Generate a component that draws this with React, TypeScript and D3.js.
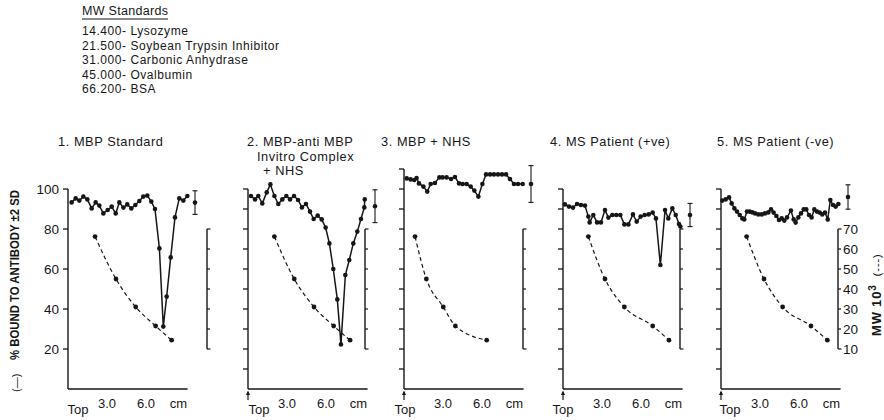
import React from "react";
import * as d3 from "d3";

// ---- data ----
const standardsTitle = "MW Standards";
const standardsLines = [
  "14.400- Lysozyme",
  "21.500- Soybean Trypsin Inhibitor",
  "31.000- Carbonic Anhydrase",
  "45.000- Ovalbumin",
  "66.200- BSA",
];

const panelTitles = [
  ["1. MBP Standard"],
  ["2. MBP-anti MBP", "Invitro Complex", "+ NHS"],
  ["3. MBP + NHS"],
  ["4. MS Patient (+ve)"],
  ["5. MS Patient (-ve)"],
];

const mwValues = [66.2, 45.0, 31.0, 21.5, 14.4];
const mwTicks = [10, 20, 30, 40, 50, 60, 70];
const xTickLabels = ["3.0", "6.0"];
const xTickValues = [3.0, 6.0];

const p1Cm = [0.28, 0.59, 0.87, 1.18, 1.49, 1.82, 2.13, 2.41, 2.72, 3.05, 3.36, 3.67, 3.95, 4.26, 4.56, 4.87, 5.18, 5.49, 5.79, 6.10, 6.41, 6.69, 7.03, 7.33, 7.59, 7.90, 8.23, 8.56, 8.87, 9.18];
const p1Bound = [93.3, 95.3, 94.2, 96.2, 94.8, 90.3, 93.3, 91.7, 87.8, 89.5, 91.2, 87.8, 93.3, 90.7, 92.3, 90.3, 92.0, 94.0, 96.2, 96.7, 93.7, 90.0, 70.3, 31.2, 46.2, 65.8, 85.8, 95.3, 94.2, 96.5];
const p1MwCm = [2.08, 3.69, 5.21, 6.74, 7.97];

const p2Cm = [0.23, 0.54, 0.79, 1.10, 1.44, 1.72, 2.03, 2.33, 2.64, 2.95, 3.23, 3.54, 3.85, 4.15, 4.46, 4.77, 5.05, 5.36, 5.67, 5.97, 6.26, 6.56, 6.87, 7.15, 7.49, 7.79, 8.10, 8.41, 8.69, 8.95, 8.98];
const p2Bound = [96.5, 94.8, 96.5, 92.8, 98.3, 102.3, 96.5, 92.5, 94.8, 96.5, 94.8, 96.5, 94.5, 90.8, 92.5, 88.7, 85.0, 86.7, 84.8, 80.7, 72.8, 60.0, 44.8, 22.3, 57.0, 64.5, 72.8, 78.7, 85.0, 90.8, 94.8];
const p2MwCm = [2.03, 3.56, 5.08, 6.59, 7.85];

const p3Cm = [0.21, 0.51, 0.79, 0.97, 1.15, 1.49, 1.79, 2.05, 2.38, 2.72, 2.97, 3.28, 3.62, 3.92, 4.23, 4.51, 4.82, 5.13, 5.41, 5.72, 6.03, 6.31, 6.62, 6.92, 7.23, 7.54, 7.85, 8.15, 8.46, 8.77, 9.13];
const p3Bound = [105.3, 104.8, 104.5, 105.5, 102.8, 101.2, 98.7, 102.5, 103.0, 105.8, 105.8, 105.8, 105.0, 106.0, 102.8, 102.5, 102.5, 101.2, 99.2, 96.2, 102.5, 107.3, 107.3, 107.3, 107.3, 107.3, 107.3, 105.0, 102.5, 102.5, 102.5];
const p3MwCm = [0.85, 1.72, 3.02, 3.95, 6.36];

const p4Cm = [0.15, 0.46, 0.77, 1.08, 1.38, 1.69, 1.95, 2.05, 2.33, 2.62, 2.92, 3.23, 3.49, 3.79, 4.10, 4.41, 4.72, 5.03, 5.38, 5.67, 5.97, 6.28, 6.59, 6.90, 7.15, 7.49, 7.85, 8.10, 8.41, 8.67, 8.92, 9.03];
const p4Bound = [92.3, 91.2, 90.7, 92.5, 92.0, 91.7, 86.2, 83.3, 87.0, 83.3, 83.3, 89.5, 85.7, 87.0, 87.0, 87.0, 82.3, 82.3, 87.3, 83.7, 86.2, 87.0, 87.3, 88.2, 85.3, 62.0, 89.5, 85.3, 90.3, 87.0, 82.5, 81.2];
const p4MwCm = [1.95, 3.23, 4.72, 6.90, 8.15];

const p5Cm = [0.10, 0.36, 0.62, 0.82, 1.03, 1.23, 1.44, 1.64, 1.79, 2.00, 2.21, 2.41, 2.62, 2.87, 3.13, 3.38, 3.64, 3.85, 4.05, 4.26, 4.46, 4.67, 4.87, 5.08, 5.38, 5.59, 5.74, 5.95, 6.15, 6.36, 6.56, 6.77, 6.97, 7.18, 7.38, 7.59, 7.79, 8.00, 8.21, 8.41, 8.62, 8.82, 9.03];
const p5Bound = [94.2, 94.8, 95.8, 92.8, 90.3, 88.7, 87.0, 85.3, 84.8, 88.7, 88.7, 88.3, 87.8, 87.3, 87.3, 87.8, 88.3, 89.8, 88.2, 86.5, 84.5, 85.3, 84.2, 85.8, 89.2, 84.8, 83.2, 85.8, 87.8, 89.8, 89.8, 87.0, 85.8, 89.8, 88.7, 88.2, 87.3, 88.2, 84.8, 94.5, 92.0, 91.2, 92.5];
const p5MwCm = [1.97, 3.31, 4.74, 6.92, 8.18];

const errorMean = [93.2, 91.4, 102.5, 87.0, 96.0];
const errorHalf = [5.9, 8.2, 9.2, 5.8, 6.1];

const allCm = [p1Cm, p2Cm, p3Cm, p4Cm, p5Cm];
const allBound = [p1Bound, p2Bound, p3Bound, p4Bound, p5Bound];
const allMwCm = [p1MwCm, p2MwCm, p3MwCm, p4MwCm, p5MwCm];

// ---- layout ----
const W = 884;
const H = 420;
const panelX0 = [68, 248, 404, 563, 721];
const panelTitleX = [58, 247, 381, 550, 717];
const titleLineDx = [0, 10, 16];
const mwAxisDx = [139, 117, 119, 117, 117];
const topLabelDx = [10, 11, 1, 0, 9];
const yTop = [100, 100, 110, 100, 100];
const FONT = "'Liberation Sans', Arial, Helvetica, sans-serif";
const INK = "#161616";

const yScale = d3.scaleLinear().domain([0, 100]).range([389, 189]);
const mwScale = d3.scaleLinear().domain([10, 70]).range([349, 229]);

function Panel({ i }: { i: number }) {
  const x0 = panelX0[i];
  const xScale = d3.scaleLinear().domain([0, 9.2]).range([x0, x0 + 119.6]);
  const pts = allCm[i].map((c, k) => [c, allBound[i][k]] as [number, number]);
  const mwPts = allMwCm[i].map((c, k) => [c, mwValues[k]] as [number, number]);
  const solid = d3
    .line<[number, number]>()
    .x((d) => xScale(d[0]))
    .y((d) => yScale(d[1]));
  const dashed = d3
    .line<[number, number]>()
    .x((d) => xScale(d[0]))
    .y((d) => mwScale(d[1]))
    .curve(d3.curveMonotoneX);
  const yTicks = i === 0 ? [20, 40, 60, 80, 100] : d3.range(10, yTop[i] + 1, 10);
  const mwX = x0 + mwAxisDx[i];
  const ebX = x0 + 127;
  const m = errorMean[i];
  const h = errorHalf[i];
  return (
    <g>
      {panelTitles[i].map((t, k) => (
        <text
          key={k}
          x={panelTitleX[i] + titleLineDx[k]}
          y={146 + k * 14.5}
          fontSize={12.8}
          fill={INK}
          letterSpacing={0.55}
        >
          {t}
        </text>
      ))}
      <line x1={x0} x2={x0} y1={yScale(0)} y2={yScale(yTop[i])} stroke={INK} strokeWidth={1.4} />
      <line x1={x0} x2={x0 + 119.6} y1={yScale(0)} y2={yScale(0)} stroke={INK} strokeWidth={1.4} />
      {yTicks.map((t) => (
        <line key={t} x1={x0 - 5} x2={x0} y1={yScale(t)} y2={yScale(t)} stroke={INK} strokeWidth={1.3} />
      ))}
      {i === 0 &&
        yTicks.map((t) => (
          <text key={"l" + t} x={x0 - 9} y={yScale(t) + 4.5} fontSize={13.5} textAnchor="end" fill={INK}>
            {t}
          </text>
        ))}
      {xTickValues.map((v, k) => (
        <text key={"x" + k} x={xScale(v)} y={408} fontSize={13} textAnchor="middle" fill={INK}>
          {xTickLabels[k]}
        </text>
      ))}
      <text x={xScale(8.5)} y={408} fontSize={13} textAnchor="middle" fill={INK}>
        cm
      </text>
      <text x={x0 + topLabelDx[i]} y={414} fontSize={13} textAnchor="middle" fill={INK}>
        Top
      </text>
      {i > 0 && (
        <g>
          <line x1={x0} x2={x0} y1={392} y2={400} stroke={INK} strokeWidth={1.2} />
          <path d={`M${x0 - 2},${395} L${x0},${390.5} L${x0 + 2},${395} Z`} fill={INK} />
        </g>
      )}
      <line x1={mwX} x2={mwX} y1={mwScale(10)} y2={mwScale(70)} stroke={INK} strokeWidth={1.4} />
      {mwTicks.map((t) => (
        <line
          key={"mw" + t}
          x1={mwX}
          x2={mwX + (t === 10 || t === 70 ? 3.5 : 3)}
          y1={mwScale(t)}
          y2={mwScale(t)}
          stroke={INK}
          strokeWidth={1.2}
        />
      ))}
      {i === 4 &&
        mwTicks.map((t) => (
          <text key={"mwl" + t} x={mwX + 5} y={mwScale(t) + 4.5} fontSize={13.5} fill={INK}>
            {t}
          </text>
        ))}
      <line x1={ebX} x2={ebX} y1={yScale(m + h)} y2={yScale(m - h)} stroke={INK} strokeWidth={1.1} />
      <line x1={ebX - 2.5} x2={ebX + 2.5} y1={yScale(m + h)} y2={yScale(m + h)} stroke={INK} strokeWidth={1.1} />
      <line x1={ebX - 2.5} x2={ebX + 2.5} y1={yScale(m - h)} y2={yScale(m - h)} stroke={INK} strokeWidth={1.1} />
      <circle cx={ebX} cy={yScale(m)} r={2.3} fill={INK} />
      <path d={dashed(mwPts) || ""} fill="none" stroke={INK} strokeWidth={1.2} strokeDasharray="4,3" />
      {mwPts.map((d, k) => (
        <circle key={"md" + k} cx={xScale(d[0])} cy={mwScale(d[1])} r={2.4} fill={INK} />
      ))}
      <path d={solid(pts) || ""} fill="none" stroke={INK} strokeWidth={1.5} />
      {pts.map((d, k) => (
        <circle key={"sd" + k} cx={xScale(d[0])} cy={yScale(d[1])} r={2.3} fill={INK} />
      ))}
    </g>
  );
}

export default function App() {
  return (
    <svg
      width={W}
      height={H}
      viewBox={`0 0 ${W} ${H}`}
      style={{ position: "absolute", left: 0, top: 0, background: "#fff", fontFamily: FONT }}
    >
      <rect width={W} height={H} fill="#fff" />
      <text x={82} y={15} fontSize={12.5} fill={INK} letterSpacing={0.3}>
        {standardsTitle}
      </text>
      <line x1={82} x2={168} y1={19} y2={19} stroke={INK} strokeWidth={1.2} />
      {standardsLines.map((s, k) => (
        <text key={k} x={82} y={35 + k * 14.5} fontSize={12} fill={INK} letterSpacing={0.55}>
          {s}
        </text>
      ))}
      <text
        transform="translate(19,360) rotate(-90)"
        fontSize={12.5}
        fontWeight="bold"
        fill={INK}
        textLength={170}
        lengthAdjust="spacingAndGlyphs"
      >
        % BOUND TO ANTIBODY ±2 SD
      </text>
      <text transform="translate(20,392) rotate(-90)" fontSize={11} fill={INK}>
        (—)
      </text>
      <text transform="translate(881,336) rotate(-90)" fontSize={13} fontWeight="bold" fill={INK} letterSpacing={0.8}>
        MW 10
        <tspan dy={-5} fontSize={10}>
          3
        </tspan>
        <tspan dy={5} dx={8} fontWeight="normal" fontSize={11.5}>
          (---)
        </tspan>
      </text>
      {[0, 1, 2, 3, 4].map((i) => (
        <Panel key={i} i={i} />
      ))}
    </svg>
  );
}
